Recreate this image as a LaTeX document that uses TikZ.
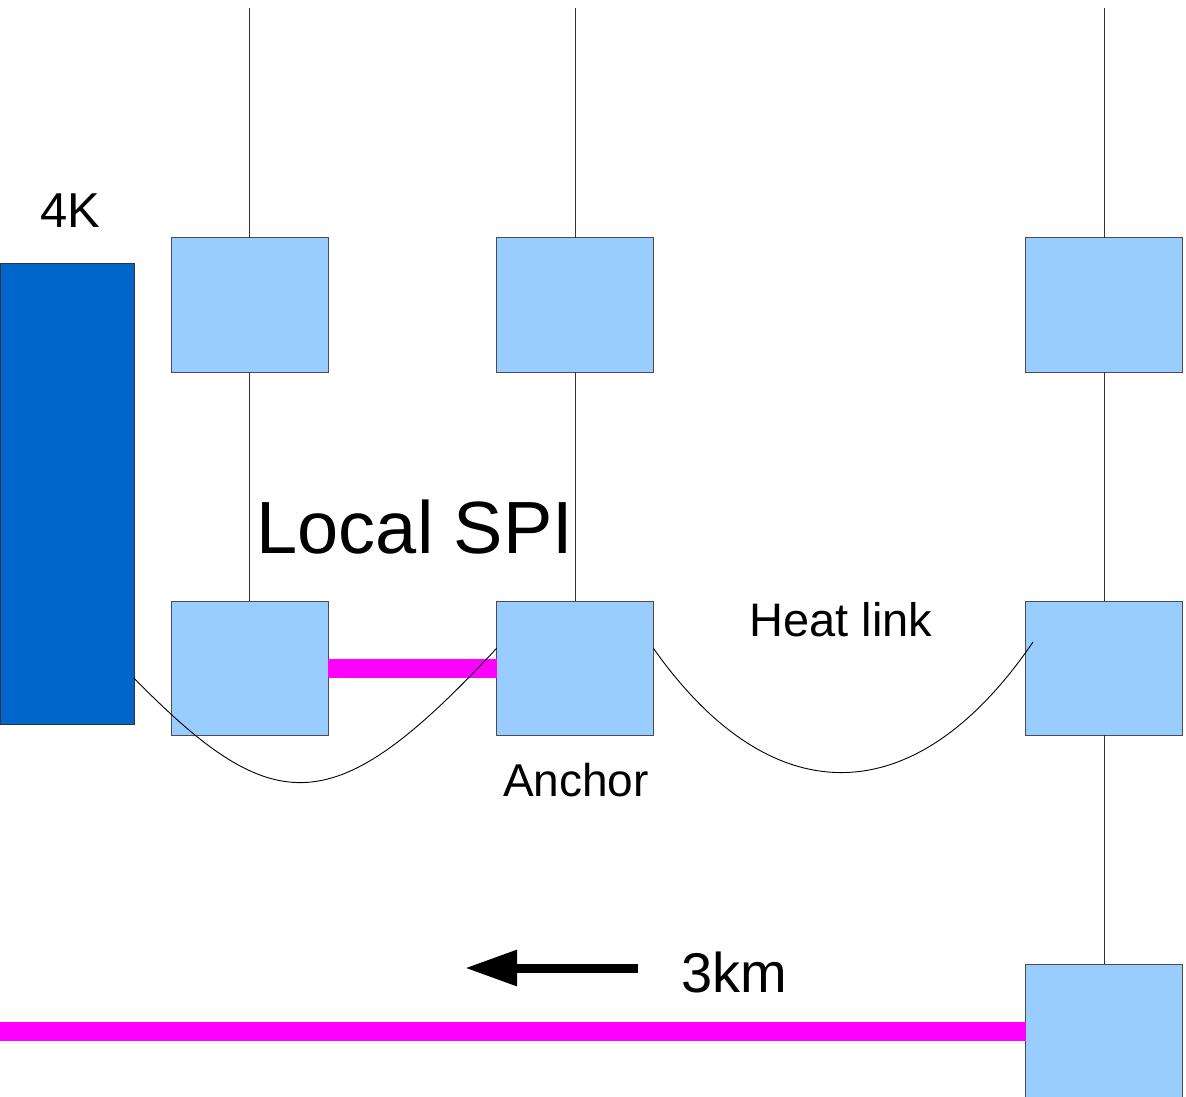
\documentclass[tikz,border=0pt]{standalone}
\usepackage{fontspec}
\setmainfont{Liberation Sans}
\usetikzlibrary{arrows.meta}
\definecolor{boxblue}{HTML}{99CCFF}
\definecolor{coldblue}{HTML}{0066CC}
\definecolor{spipink}{HTML}{FF00FF}
\begin{document}
\begin{tikzpicture}[x=0.5pt, y=-0.5pt,
  blk/.style={draw=black!70, line width=0.5pt, fill=boxblue, minimum width=78.5pt, minimum height=67pt, inner sep=0pt, outer sep=0pt},
  coldplate/.style={draw=black!80, line width=0.5pt, fill=coldblue, minimum width=67pt, minimum height=230pt, inner sep=0pt, outer sep=0pt},
  wire/.style={black!80, line width=0.5pt},
  spi/.style={spipink, line width=9.5pt},
  heatlink/.style={black, line width=0.45pt},
  lbl/.style={anchor=base, inner sep=0pt}]
\useasboundingbox (0,0) rectangle (1186,1096);
\clip (0,0) rectangle (1186,1096);
\coordinate (top) at (0,8);
\coordinate (farend) at (0,1032);
\node[coldplate] (cold) at (67,494) {};
\node[blk] (b11) at (249.5,305) {};
\node[blk] (b12) at (575,305) {};
\node[blk] (b13) at (1104,305) {};
\node[blk] (b21) at (249.5,668) {};
\node[blk] (b22) at (575,668) {};
\node[blk] (b23) at (1104,668) {};
\node[blk] (b33) at (1104,1031) {};
\draw[wire] (b11.north) -- (b11.north |- top);
\draw[wire] (b12.north) -- (b12.north |- top);
\draw[wire] (b13.north) -- (b13.north |- top);
\draw[wire] (b11.south) -- (b21.north);
\draw[wire] (b12.south) -- (b22.north);
\draw[wire] (b13.south) -- (b23.north);
\draw[wire] (b23.south) -- (b33.north);
\draw[spi] (b21.east) -- (b22.west);
\draw[spi] (b33.west) -- (b33.west -| farend);
\coordinate (arrtail) at (638,968);
\coordinate (arrtip) at (465,968);
\draw[-{Triangle[length=26pt,width=17pt]}, line width=4.5pt] (arrtail) -- (arrtip);
\coordinate (linkend) at (1033,642);
\draw[heatlink] (cold.-70) .. controls (275,822) and (335,822) .. (b22.166);
\draw[heatlink] (b22.14) .. controls (771,815) and (915,815) .. (linkend);
\node[lbl, font=\fontsize{24.5}{29}\selectfont] (tag4k) at (70,228) {4K};
\node[lbl, font=\fontsize{37}{44}\selectfont] (tagspi) at (415,553) {Local SPI};
\node[lbl, font=\fontsize{23.5}{28}\selectfont] (tagheat) at (841,636) {Heat link};
\node[lbl, font=\fontsize{23}{28}\selectfont] (taganchor) at (576,796) {Anchor};
\node[lbl, font=\fontsize{28}{34}\selectfont] (tagkm) at (734,992) {3km};
\end{tikzpicture}
\end{document}
